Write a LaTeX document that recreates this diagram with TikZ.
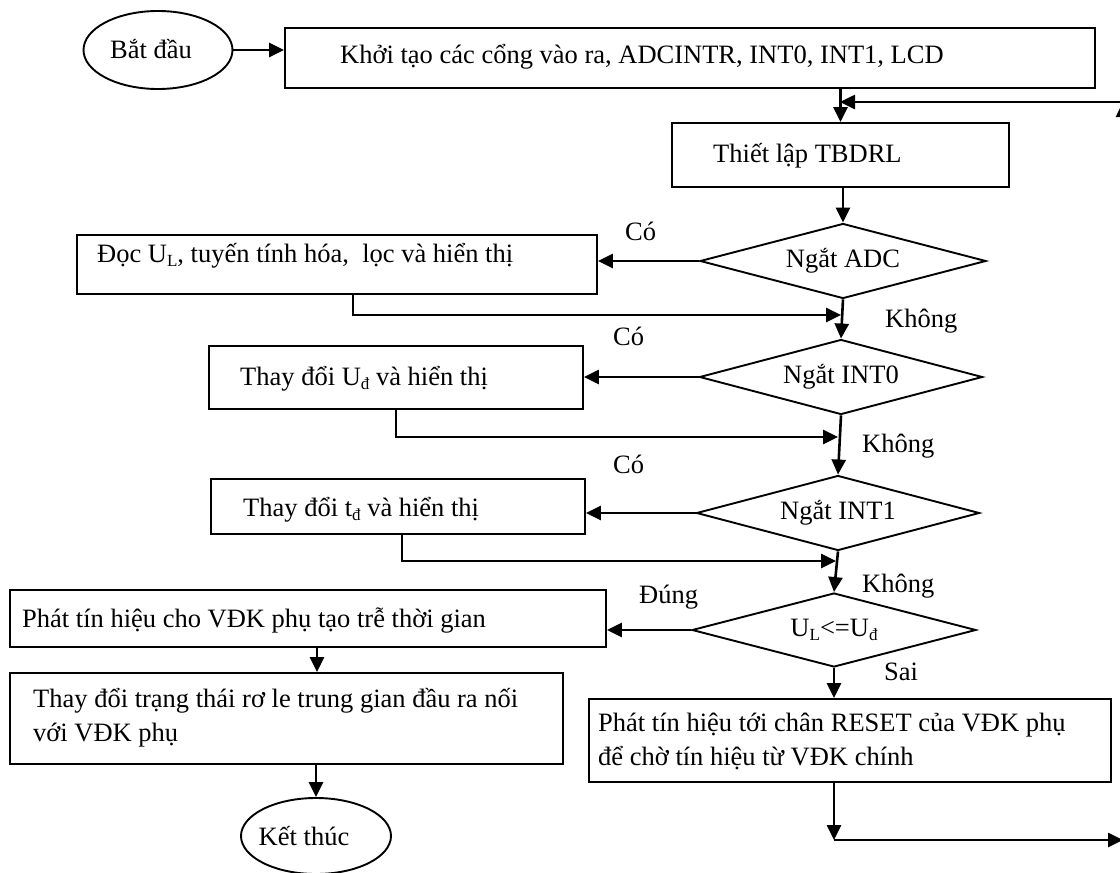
\documentclass[tikz,border=0pt]{standalone}
\usepackage{fontspec}
\setmainfont{Liberation Serif}
\usetikzlibrary{arrows.meta,shapes.geometric,fit}
\newcommand\sbs[1]{\raisebox{-0.18em}{\fontsize{17}{17}\selectfont #1}}
\begin{document}
\begin{tikzpicture}[x=1pt,y=-1pt,
  box/.style={draw,line width=1.9pt,inner sep=0pt},
  dia/.style={draw,diamond,aspect=3.8,line width=1.9pt,inner sep=0pt,font=\fontsize{26.5}{34}\selectfont},
  ell/.style={draw,ellipse,line width=1.9pt,inner sep=0pt},
  txt/.style={inner sep=0pt,anchor=base west,align=left,font=\fontsize{26.5}{34}\selectfont},
  ctxt/.style={inner sep=0pt,anchor=base,font=\fontsize{26.5}{34}\selectfont},
  arr/.style={line width=2.6pt,-{Triangle[length=15pt,width=14pt]}}]
\useasboundingbox (0,0) rectangle (1120,873);
\clip (0,0) rectangle (1120,873);

% nodes
\node[ell,minimum width=149pt,minimum height=78pt] (start) at (158,50) {};
\node[ctxt] (tstart) at (151,58) {Bắt đầu};
\node[box,fit={(285,28) (1095,88)}] (init) {};
\node[txt] (tinit) at (340,63) {Khởi tạo các cổng vào ra, ADCINTR, INT0, INT1, LCD};

\node[box,fit={(672,123) (1009,187)}] (setup) {};
\node[txt] (tsetup) at (713,162) {Thiết lập TBDRL};

\node[dia,minimum width=286pt,minimum height=75pt] (dadc) at (843,261) {Ngắt ADC};
\node[box,fit={(77,235) (597,294)}] (read) {};
\node[txt] (tread) at (97,262) {Đọc U\sbs{L}, tuyến tính hóa,\ \ lọc và hiển thị};

\node[dia,minimum width=283pt,minimum height=75pt] (dint0) at (841,377) {Ngắt INT0};
\node[box,fit={(209,346) (583,409)}] (ud) {};
\node[txt] (tud) at (240,385) {Thay đổi U\sbs{đ} và hiển thị};

\node[dia,minimum width=283pt,minimum height=75pt] (dint1) at (838,513) {Ngắt INT1};
\node[box,fit={(211,479) (585,534)}] (td) {};
\node[txt] (ttd) at (243,516) {Thay đổi t\sbs{đ} và hiển thị};

\node[dia,minimum width=284pt,minimum height=74pt] (dul) at (834,630) {U\sbs{L}<=U\sbs{đ}};
\node[box,fit={(10,590) (606,647)}] (sig) {};
\node[txt] (tsig) at (22,627) {Phát tín hiệu cho VĐK phụ tạo trễ thời gian};

\node[box,fit={(10,673) (563,764)}] (relay) {};
\node[txt] (trelay) at (33,741) {Thay đổi trạng thái rơ le trung gian đầu ra nối\\với VĐK phụ};

\node[ell,minimum width=150pt,minimum height=76pt] (end) at (316,836) {};
\node[ctxt] (tend) at (304,845) {Kết thúc};

\node[box,fit={(589,699) (1111,782)}] (reset) {};
\node[txt] (treset) at (598,765) {Phát tín hiệu tới chân RESET của VĐK phụ\\để chờ tín hiệu từ VĐK chính};

% labels
\node[txt] (co1) at (625,240) {Có};
\node[txt] (kh1) at (885,327) {Không};
\node[txt] (co2) at (613,345) {Có};
\node[txt] (kh2) at (862,452) {Không};
\node[txt] (co3) at (613,473) {Có};
\node[txt] (kh3) at (862,592) {Không};
\node[txt] (dung) at (639,603) {Đúng};
\node[txt] (sai) at (884,680) {Sai};

% junction coordinates
\coordinate (j1) at (841,315);
\coordinate (j2) at (838,437);
\coordinate (j3) at (836,561);
\coordinate (lp1) at (834,840);
\coordinate (lp2) at (1123,840);
\coordinate (lp3) at (1123,102);
\coordinate (lp4) at (840,102);

% connectors
\draw[arr] (start.east) -- (start.east -| init.west);
\draw[arr] (init.south -| setup.north) -- (setup.north);
\draw[arr] (setup.south -| dadc.north) -- (dadc.north);
\draw[arr] (dadc.west) -- (dadc.west -| read.east);
\draw[arr] ([xshift=16pt]read.south) |- (j1);
\draw[arr] (dadc.south) -- (dint0.north);
\draw[arr] (dint0.west) -- (dint0.west -| ud.east);
\draw[arr] (ud.south) |- (j2);
\draw[arr] (dint0.south) -- (dint1.north);
\draw[arr] (dint1.west) -- (dint1.west -| td.east);
\draw[arr] ([xshift=4pt]td.south) |- (j3);
\draw[arr] (dint1.south) -- (dul.north);
\draw[arr] (dul.west) -- (dul.west -| sig.east);
\draw[arr] ([xshift=9pt]sig.south) -- ([xshift=9pt]sig.south |- relay.north);
\draw[arr] (end.north |- relay.south) -- (end.north);
\draw[arr] (dul.south) -- (dul.south |- reset.north);
\draw[arr] (reset.south -| lp1) -- (lp1);
\draw[arr] (lp1) -- (lp2);
\draw[arr] (lp2) -- (lp3);
\draw[arr] (lp3) -- (lp4);
\end{tikzpicture}
\end{document}
